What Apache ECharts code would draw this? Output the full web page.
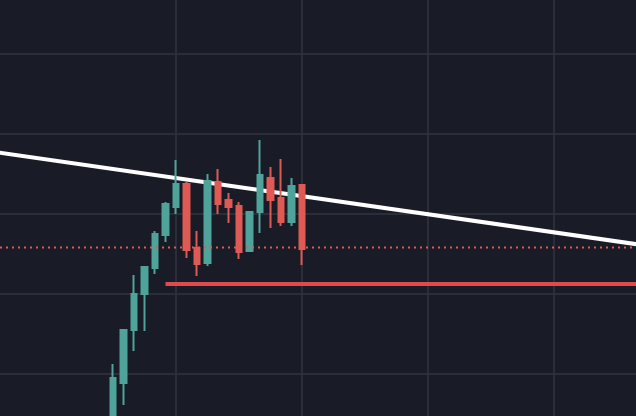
<!DOCTYPE html>
<html>
<head>
<meta charset="utf-8">
<script src="https://cdn.jsdelivr.net/npm/echarts@6/dist/echarts.min.js"></script>
<style>
  html, body { margin: 0; padding: 0; background: #191b27; }
  #chart { width: 636px; height: 416px; }
</style>
</head>
<body>
<div id="chart"></div>
<script>
// 62 slots on the time axis, candles start at slot 11
const slotCount = 62;
const firstCandle = 11;
const categories = Array.from({ length: slotCount }, (_, i) => 't' + i);

// candle values, one entry per bar
const opens  = [101.75, 108.88, 115.5, 120.0, 123.25, 127.38, 130.88, 133.75, 125.75, 123.88, 134.0, 131.75, 131.0, 125.38, 130.25, 134.5, 132.0, 129.0, 133.63];
const closes = [109.5, 115.5, 120.0, 123.38, 127.5, 131.25, 133.75, 125.5, 123.75, 134.13, 131.25, 130.88, 125.25, 130.25, 134.88, 131.75, 129.0, 133.5, 125.63];
const lows   = [100.5, 106.13, 112.88, 115.38, 122.5, 126.5, 130.0, 124.5, 122.25, 123.5, 130.0, 128.88, 124.38, 125.25, 127.63, 128.25, 128.5, 128.5, 123.63];
const highs  = [111.25, 115.63, 122.38, 123.5, 127.88, 131.5, 136.75, 134.0, 127.88, 135.0, 135.63, 132.63, 131.5, 130.38, 139.25, 135.88, 136.88, 134.5, 133.63];

// trend line ends, support level, reference level
const trendStart = [0, 137.7];
const trendEnd = [61, 126.2];
const supportFrom = 16;
const supportLevel = 121.25;
const refLevel = 125.8;

const candleData = categories.map((c, i) => {
    const k = i - firstCandle;
    if (k < 0 || k >= opens.length) return '-';
    return [opens[k], closes[k], lows[k], highs[k]];
});

const chart = echarts.init(document.getElementById('chart'));
chart.setOption({
    animation: false,
    backgroundColor: '#191b27',
    grid: { left: -2.5, right: -2, top: -26, bottom: -38, outerBoundsMode: 'none', containLabel: false },
    xAxis: {
        type: 'category',
        data: categories,
        boundaryGap: false,
        axisLine: { show: false },
        axisTick: { show: false },
        axisLabel: { show: false },
        splitLine: {
            show: true,
            interval: (i) => i >= 17 && (i - 17) % 12 === 0,
            lineStyle: { color: '#2a2d3a', width: 2 }
        }
    },
    yAxis: {
        type: 'value',
        min: 100,
        max: 160,
        interval: 10,
        axisLine: { show: false },
        axisTick: { show: false },
        axisLabel: { show: false },
        splitLine: { lineStyle: { color: '#2a2d3a', width: 2 } }
    },
    series: [
        {
            type: 'line',
            data: [trendStart, trendEnd],
            symbol: 'none',
            silent: true,
            z: 1,
            lineStyle: { color: '#ffffff', width: 4 }
        },
        {
            type: 'candlestick',
            data: candleData,
            barWidth: 6,
            z: 3,
            itemStyle: {
                color: '#4fa39a',
                color0: '#e05a55',
                borderColor: '#4fa39a',
                borderColor0: '#e05a55',
                borderWidth: 2
            }
        },
        {
            type: 'line',
            data: [[supportFrom, supportLevel], [slotCount - 1, supportLevel]],
            symbol: 'none',
            silent: true,
            z: 4,
            lineStyle: { color: '#e04a4c', width: 4 }
        },
        {
            type: 'line',
            data: [[0, refLevel], [slotCount - 1, refLevel]],
            symbol: 'none',
            silent: true,
            z: 5,
            lineStyle: { color: '#e05a55', width: 2, type: [2, 4], dashOffset: 3.5 }
        }
    ]
});
</script>
</body>
</html>
